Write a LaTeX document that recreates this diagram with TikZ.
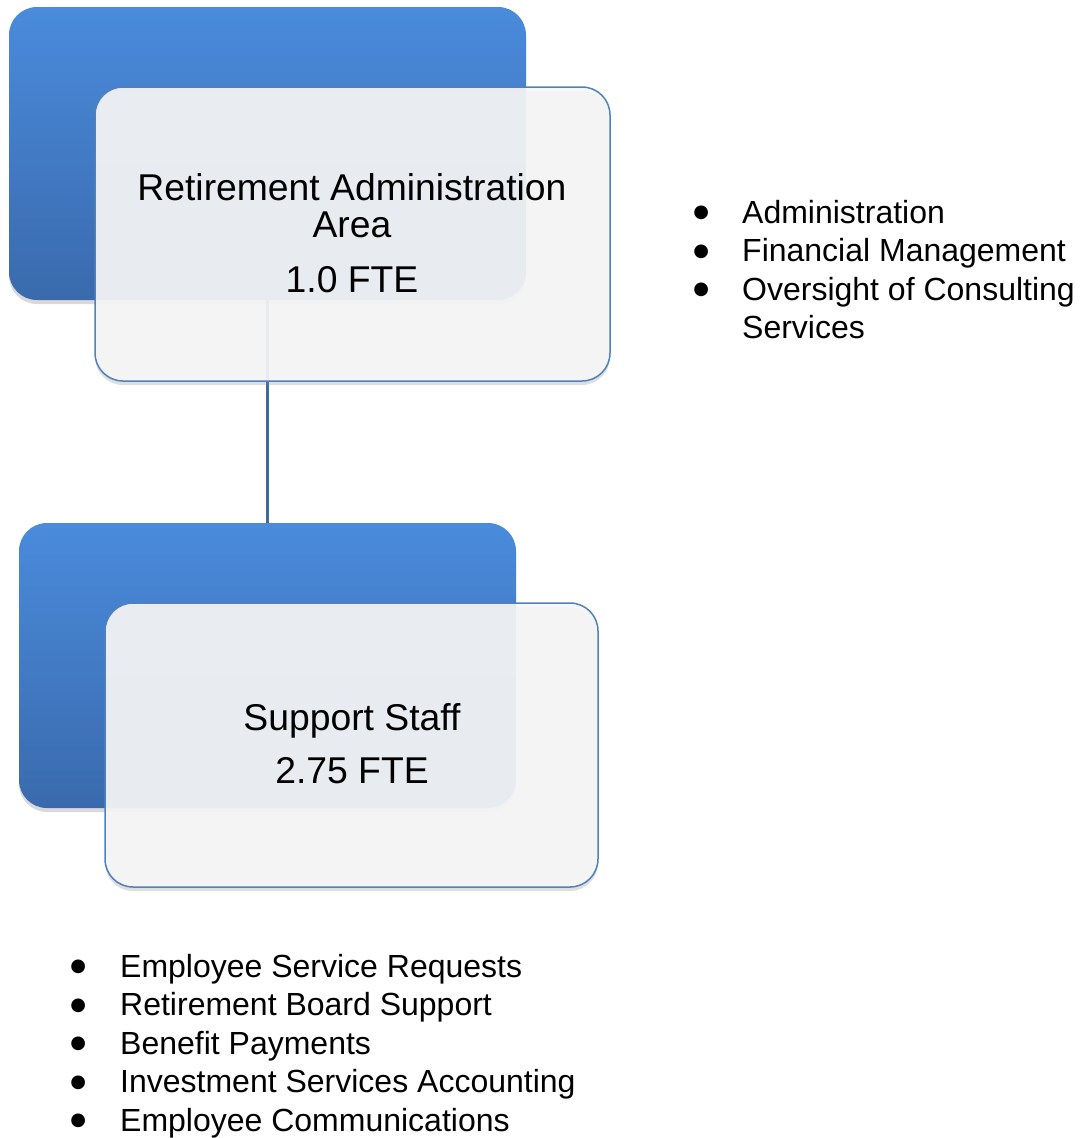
\documentclass[tikz,border=0pt]{standalone}
\usepackage{fontspec}
\setmainfont{Liberation Sans}
\newfontfamily\dotfont{DejaVu Sans}
\usetikzlibrary{shadows}
\definecolor{bluetop}{HTML}{4A8BDC}
\definecolor{bluemid}{HTML}{4584D4}
\definecolor{bluebot}{HTML}{3A6AAD}
\definecolor{boxedge}{HTML}{4F81BD}
\definecolor{linkblue}{HTML}{3F6C9E}
\definecolor{paper}{HTML}{F6F6F6}
\newcommand{\bigbullet}{\makebox[0pt]{\raisebox{5.5pt}{\dotfont\fontsize{18}{18}\selectfont ●}}}
\begin{document}
\begin{tikzpicture}[x=1pt,y=-1pt,
  backbox/.style={rectangle, rounded corners=28pt, inner sep=0pt,
    top color=bluetop, middle color=bluemid, bottom color=bluebot, draw=none,
    drop shadow={opacity=0.3, shadow xshift=0pt, shadow yshift=-4pt}},
  frontbox/.style={rectangle, rounded corners=28pt, inner sep=0pt,
    fill=paper, fill opacity=0.92, draw=boxedge, draw opacity=1, line width=1.5pt,
    drop shadow={opacity=0.25, shadow xshift=0pt, shadow yshift=-4pt}},
  link/.style={draw=linkblue, line width=3pt},
  boxtext/.style={inner sep=0pt, anchor=base, font=\fontsize{37.3}{45}\selectfont},
  listtext/.style={inner sep=0pt, anchor=base west, font=\fontsize{32}{38.6}\selectfont}
]
\useasboundingbox (0,0) rectangle (1083,1138);
\node[backbox, minimum width=517pt, minimum height=293pt] (tb) at (267.5,153.5) {};
\node[backbox, minimum width=497pt, minimum height=285pt] (bb) at (267.5,665.5) {};
\draw[link] (tb.south) -- (bb.north);
\node[frontbox, minimum width=515pt, minimum height=294pt] (tw) at (352.5,234) {};
\node[frontbox, minimum width=493pt, minimum height=284pt] (bw) at (351.5,745) {};

\node[boxtext] (tw1) at (352,200) {Retirement Administration};
\node[boxtext] (tw2) at (352,237.5) {Area};
\node[boxtext] (tw3) at (352,292) {1.0 FTE};
\node[boxtext] (bw1) at (352,730) {Support Staff};
\node[boxtext] (bw2) at (352,783) {2.75 FTE};

\node[listtext] (toplist) at (701,223) {%
  \begin{tabular}[t]{@{}p{41pt}@{}l@{}}
  \bigbullet & Administration\\
  \bigbullet & Financial Management\\
  \bigbullet & Oversight of Consulting\\
    & Services
  \end{tabular}};
\node[listtext] (botlist) at (78,977) {%
  \begin{tabular}[t]{@{}p{42pt}@{}l@{}}
  \bigbullet & Employee Service Requests\\
  \bigbullet & Retirement Board Support\\
  \bigbullet & Benefit Payments\\
  \bigbullet & Investment Services Accounting\\
  \bigbullet & Employee Communications
  \end{tabular}};
\end{tikzpicture}
\end{document}
